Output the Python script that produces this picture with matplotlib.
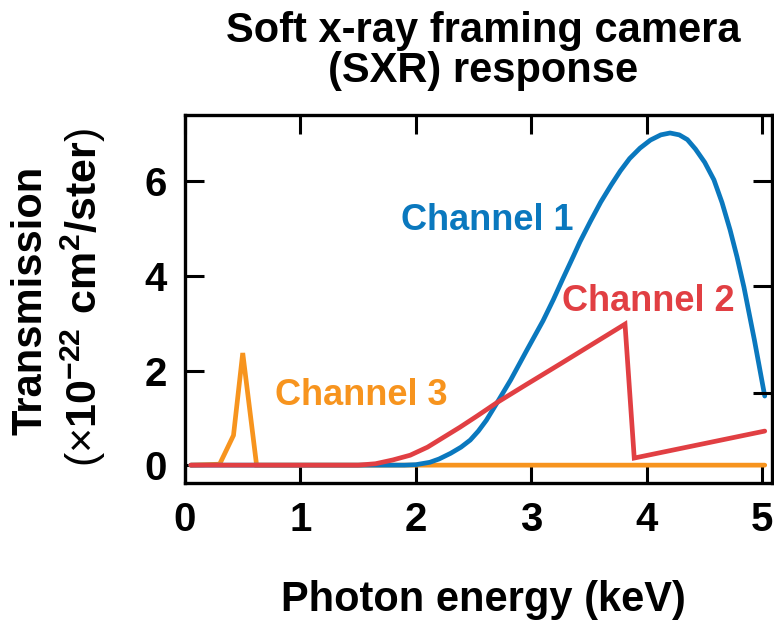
import matplotlib
matplotlib.use("Agg")
import matplotlib.pyplot as plt

plt.rcParams['font.family'] = ['Liberation Sans', 'DejaVu Sans']
plt.rcParams['mathtext.fontset'] = 'custom'
plt.rcParams['mathtext.rm'] = 'Liberation Sans'
plt.rcParams['mathtext.bf'] = 'Liberation Sans:bold'

# Channel 1 (blue)
ch1_e = [0.05, 1.5, 1.9, 2.0, 2.12, 2.2, 2.30, 2.39, 2.47, 2.54, 2.61, 2.70, 2.82, 2.96,
         3.10, 3.19, 3.27, 3.36, 3.42, 3.51, 3.60, 3.69, 3.77, 3.85, 3.94, 4.03, 4.12,
         4.20, 4.28, 4.35, 4.42, 4.50, 4.58, 4.65, 4.72, 4.78, 4.84, 4.93, 5.02]
ch1_t = [0.0, 0.0, 0.0, 0.01, 0.06, 0.13, 0.25, 0.38, 0.53, 0.72, 0.95, 1.31, 1.80, 2.43,
         3.05, 3.50, 3.93, 4.40, 4.72, 5.15, 5.56, 5.92, 6.22, 6.48, 6.70, 6.87, 6.98,
         7.02, 6.98, 6.88, 6.68, 6.40, 6.03, 5.55, 4.97, 4.40, 3.76, 2.65, 1.46]

# Channel 2 (red)
ch2_e = [0.05, 1.5, 1.65, 1.80, 1.95, 2.10, 2.24, 2.38, 2.53, 2.70, 2.96, 3.25, 3.55,
         3.81, 3.89, 5.02]
ch2_t = [0.0, 0.0, 0.03, 0.11, 0.21, 0.38, 0.59, 0.80, 1.04, 1.32, 1.71, 2.14, 2.59,
         2.98, 0.15, 0.72]

# Channel 3 (orange)
ch3_e = [0.05, 0.3, 0.42, 0.5, 0.62, 5.02]
ch3_t = [0.0, 0.02, 0.63, 2.37, 0.0, 0.0]

x_ticks = [0, 1, 2, 3, 4, 5]
y_ticks = [0, 2, 4, 6]
right_ticks = [6, 3.78, 1.52]

c1 = '#0a78be'
c2 = '#e13f43'
c3 = '#f7941e'

fig = plt.figure(figsize=(7.74, 6.25), dpi=100)
ax = fig.add_axes([0.239, 0.227, 0.758, 0.589])

ax.plot(ch3_e, ch3_t, color=c3, lw=3.4, solid_capstyle='round', solid_joinstyle='miter')
ax.plot(ch1_e, ch1_t, color=c1, lw=3.4, solid_capstyle='round', solid_joinstyle='round')
ax.plot(ch2_e, ch2_t, color=c2, lw=3.4, solid_capstyle='round', solid_joinstyle='miter')

ax.set_xlim(0, 5.08)
ax.set_ylim(-0.38, 7.4)
ax.set_xticks(x_ticks)
ax.set_yticks(y_ticks)
ax.tick_params(direction='in', length=14, width=2.2, top=True, right=False,
               labelsize=29)
ax.tick_params(axis='x', pad=13)
ax.tick_params(axis='y', pad=13)
for lab in ax.get_xticklabels() + ax.get_yticklabels():
    lab.set_fontweight('bold')
for s in ax.spines.values():
    s.set_linewidth(2.4)

# right-hand tick marks
ax_r = ax.twinx()
ax_r.set_ylim(ax.get_ylim())
ax_r.set_yticks(right_ticks)
ax_r.tick_params(direction='in', length=14, width=2.2, labelright=False)
for s in ax_r.spines.values():
    s.set_visible(False)

ax.text(2.62, 5.18, 'Channel 1', color=c1, fontsize=26, fontweight='bold', ha='center', va='center')
ax.text(4.01, 3.45, 'Channel 2', color=c2, fontsize=26, fontweight='bold', ha='center', va='center')
ax.text(1.53, 1.48, 'Channel 3', color=c3, fontsize=26, fontweight='bold', ha='center', va='center')

fig.text(0.624, 0.918, 'Soft x-ray framing camera\n(SXR) response', fontsize=30,
         fontweight='bold', ha='center', va='center', linespacing=1.0)
fig.text(0.625, 0.04, 'Photon energy (keV)', fontsize=30, fontweight='bold',
         ha='center', va='center')
fig.text(0.039, 0.52, 'Transmission', fontsize=30, fontweight='bold',
         rotation=90, ha='center', va='center')
fig.text(0.107, 0.523,
         r'$\mathrm{(\times}\mathbf{10^{-22}\ cm^{2}/ster}\mathrm{)}$',
         fontsize=31, rotation=90, ha='center', va='center')

fig.savefig('out.png', dpi=100)
